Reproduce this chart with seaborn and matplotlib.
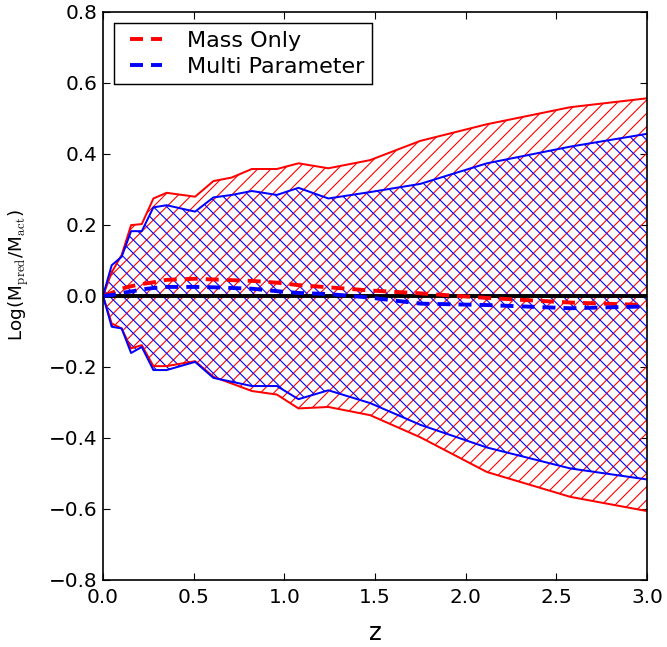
import numpy as np
import pandas as pd
import matplotlib
matplotlib.use("Agg")
import matplotlib.pyplot as plt
import seaborn as sns

# redshift grid and envelopes
z = [0.0, 0.048, 0.103, 0.155, 0.214, 0.278, 0.351, 0.508, 0.609, 0.710,
     0.821, 0.959, 1.078, 1.243, 1.473, 1.749, 2.117, 2.577, 3.0]

mass_upper = [0.0, 0.066, 0.115, 0.199, 0.202, 0.274, 0.290, 0.279, 0.323, 0.333,
              0.357, 0.357, 0.373, 0.359, 0.382, 0.436, 0.483, 0.531, 0.556]
mass_lower = [0.0, -0.078, -0.092, -0.148, -0.139, -0.198, -0.198, -0.184, -0.228, -0.247,
              -0.268, -0.278, -0.317, -0.313, -0.336, -0.398, -0.496, -0.566, -0.606]
mass_mean = [0.0, 0.008, 0.020, 0.027, 0.033, 0.038, 0.045, 0.048, 0.046, 0.044,
             0.042, 0.037, 0.030, 0.024, 0.015, 0.007, -0.006, -0.019, -0.026]

multi_upper = [0.0, 0.086, 0.110, 0.182, 0.182, 0.249, 0.255, 0.237, 0.277, 0.284,
               0.295, 0.284, 0.304, 0.274, 0.292, 0.315, 0.373, 0.420, 0.456]
multi_lower = [0.0, -0.087, -0.092, -0.161, -0.144, -0.209, -0.209, -0.186, -0.231, -0.242,
               -0.254, -0.254, -0.291, -0.266, -0.302, -0.363, -0.427, -0.486, -0.517]
multi_mean = [0.0, 0.002, 0.008, 0.012, 0.018, 0.022, 0.025, 0.025, 0.024, 0.022,
              0.020, 0.013, 0.008, 0.005, -0.005, -0.022, -0.026, -0.035, -0.030]

xtick_labels = ["0.0", "0.5", "1.0", "1.5", "2.0", "2.5", "3.0"]
ytick_labels = ["\u22120.8", "\u22120.6", "\u22120.4", "\u22120.2", "0.0",
                "0.2", "0.4", "0.6", "0.8"]

df = pd.DataFrame({"z": z,
                   "mass_upper": mass_upper, "mass_lower": mass_lower, "mass_mean": mass_mean,
                   "multi_upper": multi_upper, "multi_lower": multi_lower, "multi_mean": multi_mean})

sns.set_style("ticks", rc={"text.color": "black", "axes.labelcolor": "black",
                           "xtick.color": "black", "ytick.color": "black",
                           "axes.edgecolor": "black",
                           "xtick.direction": "in", "ytick.direction": "in",
                           "xtick.top": True, "ytick.right": True})
plt.rcParams["font.family"] = ["DejaVu Sans"]
plt.rcParams["mathtext.fontset"] = "cm"
plt.rcParams["hatch.linewidth"] = 1.0

DPI = 80
fig = plt.figure(figsize=(667 / DPI, 647 / DPI), dpi=DPI)
ax = fig.add_axes([0.1544, 0.1036, 0.8156, 0.8784])

# hatched envelopes
ax.fill_between(df["z"], df["mass_lower"], df["mass_upper"], facecolor="none",
                edgecolor="red", hatch="//", linewidth=0)
ax.fill_between(df["z"], df["multi_lower"], df["multi_upper"], facecolor="none",
                edgecolor="blue", hatch="\\\\", linewidth=0)

# envelope edges
for col, c in [("mass_upper", "red"), ("mass_lower", "red"),
               ("multi_upper", "blue"), ("multi_lower", "blue")]:
    sns.lineplot(data=df, x="z", y=col, color=c, lw=1.8, ax=ax)

ax.axhline(0, color="black", lw=3.5)

dash = (0, (3.34, 2.06))
sns.lineplot(data=df, x="z", y="mass_mean", color="red", lw=3.5, linestyle=dash,
             label="Mass Only", ax=ax)
sns.lineplot(data=df, x="z", y="multi_mean", color="blue", lw=3.5, linestyle=dash,
             label="Multi Parameter", ax=ax)

ax.set_xlim(0, 3)
ax.set_ylim(-0.8, 0.8)
ax.set_xticks(np.arange(0, 3.01, 0.5))
ax.set_yticks(np.arange(-0.8, 0.81, 0.2))
ax.set_xticklabels(xtick_labels)
ax.set_yticklabels(ytick_labels)
ax.tick_params(labelsize=18, length=6.3, width=1)
ax.tick_params(axis="x", pad=7)
ax.tick_params(axis="y", pad=5)
for s in ax.spines.values():
    s.set_linewidth(1.5)

ax.set_xlabel("z", fontsize=22)
ax.xaxis.set_label_coords(0.5, -0.073)
ax.set_ylabel(r"Log(M$_{\rm pred}$/M$_{\rm act}$)", fontsize=16.5)
ax.yaxis.set_label_coords(-0.13, 0.537)

leg = ax.legend(loc="upper left", fontsize=20, fancybox=False, frameon=True,
                handlelength=1.8, handletextpad=1.13, borderpad=0.35,
                labelspacing=0.27, borderaxespad=0.5)
leg.get_frame().set_edgecolor("black")
leg.get_frame().set_linewidth(1.3)
leg.get_frame().set_alpha(1)
for ln in leg.get_lines():
    ln.set_linestyle((3.34, (3.34, 2.06)))

fig.savefig("out.png", dpi=DPI)
